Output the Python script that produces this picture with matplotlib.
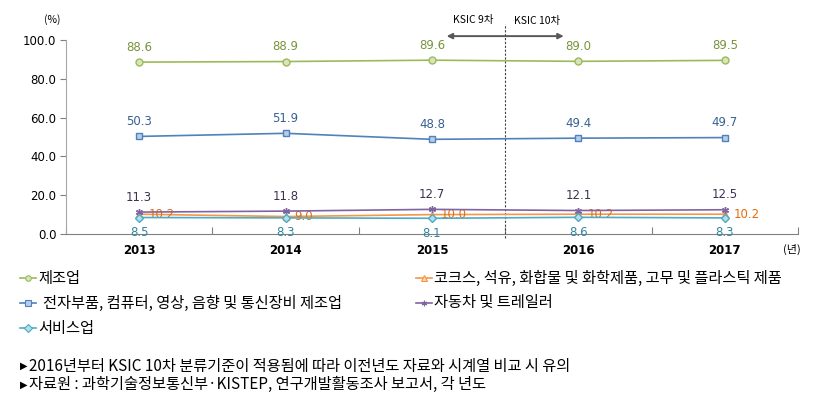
import numpy as np
import matplotlib
matplotlib.use('Agg')
import matplotlib.pyplot as plt
from matplotlib.lines import Line2D

plt.rcParams['font.family'] = ['Noto Sans CJK KR', 'DejaVu Sans']

# donnees
annees = ['2013', '2014', '2015', '2016', '2017']
manuf = [88.6, 88.9, 89.6, 89.0, 89.5]
elec = [50.3, 51.9, 48.8, 49.4, 49.7]
coke = [10.2, 9.0, 10.0, 10.2, 10.2]
auto = [11.3, 11.8, 12.7, 12.1, 12.5]
serv = [8.5, 8.3, 8.1, 8.6, 8.3]
noms = ['제조업', '전자부품, 컴퓨터, 영상, 음향 및 통신장비 제조업',
        '코크스, 석유, 화합물 및 화학제품, 고무 및 플라스틱 제품', '자동차 및 트레일러', '서비스업']
notes = ['2016년부터 KSIC 10차 분류기준이 적용됨에 따라 이전년도 자료와 시계열 비교 시 유의',
         '자료원 : 과학기술정보통신부·KISTEP, 연구개발활동조사 보고서, 각 년도']

fig = plt.figure(figsize=(8.23, 4.05), dpi=100)
ax = fig.add_axes([66/823, 1-234/405, 732/823, 194/405])
x = np.arange(len(annees))
num = 'DejaVu Sans'

series = [
    (manuf, '#9BBB59', 'o', '#D7E4BD', '#77933C', 'above'),
    (elec, '#4F81BD', 's', '#B9CDE5', '#376092', 'above'),
    (coke, '#F79646', '^', '#FCD5B5', '#E46C0A', 'right'),
    (auto, '#8064A2', (6, 2, 0), '#8064A2', '#3F3151', 'above'),
    (serv, '#4BACC6', 'D', '#B7DEE8', '#31859C', 'below'),
]
handles = []
for vals, col, mk, fc, tcol, pos in series:
    h, = ax.plot(x, vals, color=col, lw=1.2, marker=mk, ms=5 if mk != 'D' else 4,
                 mfc=fc, mec=col, mew=1, zorder=3)
    handles.append(h)
    for xi, v in zip(x, vals):
        if pos == 'above':
            ax.annotate(f'{v:.1f}', (xi, v), xytext=(0, 6), textcoords='offset points',
                        ha='center', va='bottom', color=tcol, fontsize=8.5, family=num)
        elif pos == 'right':
            ax.annotate(f'{v:.1f}', (xi, v), xytext=(6.5, 0), textcoords='offset points',
                        ha='left', va='center', color=tcol, fontsize=8.5, family=num)
        else:
            ax.annotate(f'{v:.1f}', (xi, v), xytext=(0, -6), textcoords='offset points',
                        ha='center', va='top', color=tcol, fontsize=8.5, family=num)

ax.set_xlim(-0.5, 4.5)
ax.set_ylim(0, 100)
ax.set_yticks(np.arange(0, 101, 20))
ax.set_yticklabels([f'{v:.1f}' for v in range(0, 101, 20)], family=num, fontsize=8.5)
ax.set_xticks(np.arange(-0.5, 4.6, 1))
ax.set_xticklabels([])
ax.set_xticks(x, minor=True)
ax.set_xticklabels(annees, minor=True, family=num, fontsize=8.5, fontweight='bold')
ax.tick_params(axis='x', which='minor', length=0, pad=7)
ax.tick_params(axis='x', which='major', length=5, direction='in', color='#808080')
ax.tick_params(axis='y', length=4, color='#808080', pad=3)
for s in ['top', 'right']:
    ax.spines[s].set_visible(False)
ax.spines['left'].set_color('#A6A6A6')
ax.spines['bottom'].set_color('#808080')

# ligne KSIC
ax.plot([2.5, 2.5], [-2, 108], ls=(0, (2, 1.5)), color='#404040', lw=0.8, clip_on=False)
ax.annotate('', xy=(2.9, 102), xytext=(2.1, 102), xycoords='data',
            arrowprops=dict(arrowstyle='<|-|>', color='#595959', lw=1.4, mutation_scale=8,
                            shrinkA=0, shrinkB=0),
            annotation_clip=False)
fig.text(473/823, 1-20/405, 'KSIC 9차', ha='center', va='center', fontsize=7.5)
fig.text(537/823, 1-21/405, 'KSIC 10차', ha='center', va='center', fontsize=7.5)
fig.text(52/823, 1-20/405, '(%)', ha='center', va='center', fontsize=7.5)
fig.text(792/823, 1-249/405, '(년)', ha='center', va='center', fontsize=8)

# legende
pos_leg = [(20, 278), (20, 303), (416, 278), (416, 303), (20, 328)]
for h, nom, (lx, ly) in zip(handles, noms, pos_leg):
    yy = 1 - ly/405
    fig.add_artist(Line2D([lx/823, (lx+16)/823], [yy, yy], color=h.get_color(), lw=1.2,
                          transform=fig.transFigure))
    fig.add_artist(Line2D([(lx+8)/823], [yy], marker=h.get_marker(), ms=4,
                          mfc=h.get_markerfacecolor(), mec=h.get_color(), mew=0.8,
                          transform=fig.transFigure))
    fig.text((lx+18 + (5 if nom.startswith('전자') else 0))/823, yy, nom, va='center', fontsize=11)

for i, n in enumerate(notes):
    yy = 1 - (366 + 18.5*i)/405
    fig.text(20/823, yy, '▶', va='center', fontsize=7, family='DejaVu Sans')
    fig.text(29/823, yy, n, va='center', fontsize=11)

fig.savefig('out.png', dpi=100)
